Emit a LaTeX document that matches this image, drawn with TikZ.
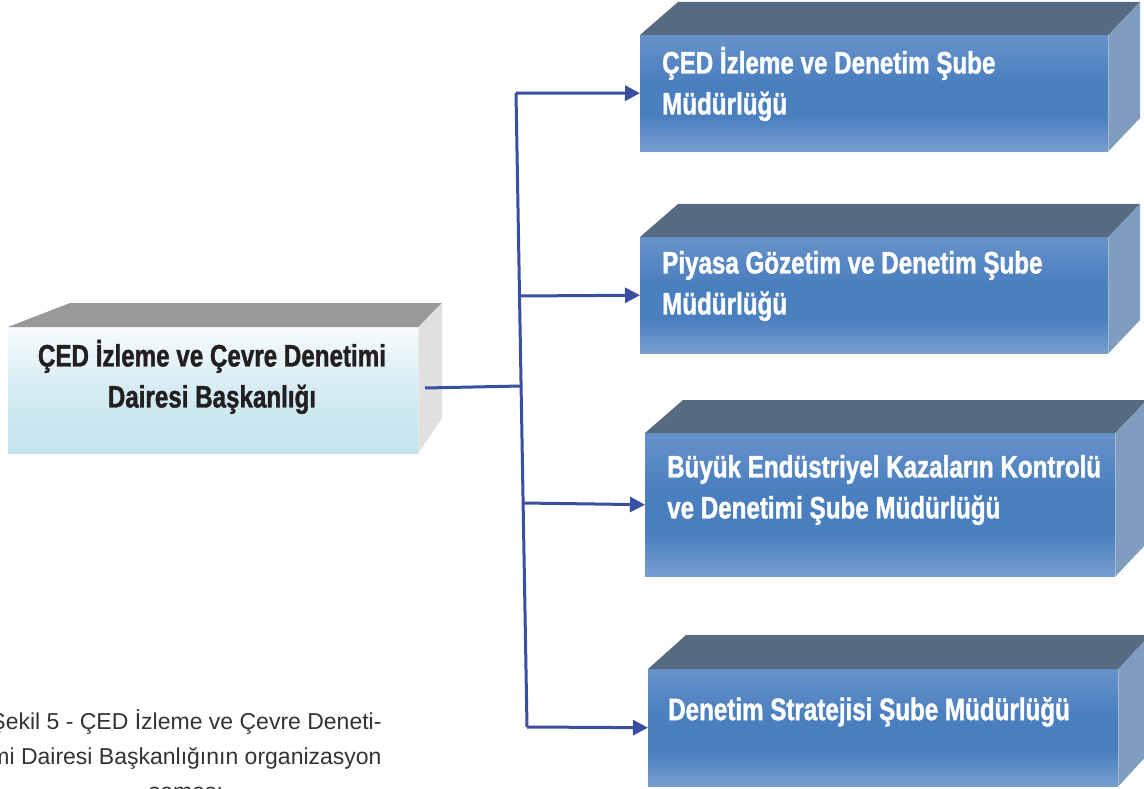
\documentclass[tikz,border=0pt]{standalone}
\usepackage{fontspec}
\setmainfont{Liberation Sans}
\newfontfamily\boxfont[FakeStretch=0.78, BoldFeatures={FakeBold=1.2}]{Liberation Sans}
\usetikzlibrary{arrows.meta}
\definecolor{topblue}{HTML}{566B82}
\definecolor{sideblue}{HTML}{809DBF}
\definecolor{lightblue}{HTML}{97B4DA}
\definecolor{darkblue}{HTML}{4A7FBF}
\definecolor{midblue}{HTML}{6E97CC}
\definecolor{topgray}{HTML}{999999}
\definecolor{sidegray}{HTML}{E0E0E0}
\definecolor{paleblue}{HTML}{B2DCE8}
\definecolor{linkblue}{HTML}{3A4FA2}
\definecolor{captext}{HTML}{333333}
\definecolor{maintext}{HTML}{231F20}
\pgfdeclareverticalshading{bluefront}{100bp}{color(0bp)=(lightblue); color(15bp)=(lightblue); color(40bp)=(darkblue); color(55bp)=(darkblue); color(80bp)=(midblue); color(100bp)=(lightblue)}
\pgfdeclareverticalshading{palefront}{100bp}{color(0bp)=(paleblue); color(50bp)=(paleblue!55!white); color(80bp)=(white); color(100bp)=(white)}
\tikzset{
  front/.style={shading=bluefront, inner sep=0pt, anchor=north west, draw=none},
  mainfront/.style={shading=palefront, inner sep=0pt, anchor=north west, draw=none},
  subtext/.style={font=\boxfont\bfseries\fontsize{31}{41}\selectfont, text=white, align=left, anchor=west, inner sep=0pt},
  maintxt/.style={font=\boxfont\bfseries\fontsize{31}{41}\selectfont, text=maintext, align=center, inner sep=0pt},
  link/.style={draw=linkblue, line width=3pt},
  arrowlink/.style={link, -{Triangle[length=15pt,width=15pt]}},
}
\begin{document}
\begin{tikzpicture}[x=1pt,y=-1pt]
\useasboundingbox (0,0) rectangle (1144,789);
\clip (0,0) rectangle (1144,789);
% main box
\node[mainfront, minimum width=410pt, minimum height=126pt] (main) at (8,327) {};
\fill[topgray] (main.north west) -- (70,303) -- (442,303) -- (main.north east) -- cycle;
\fill[sidegray] (main.north east) -- (442,303) -- (442,418) -- (main.south east) -- cycle;
\node[maintxt] (maint) at (212,377) {ÇED İzleme ve Çevre Denetimi\\Dairesi Başkanlığı};
% box 1
\node[front, minimum width=468pt, minimum height=116pt] (b1) at (640,35) {};
\fill[topblue] (b1.north west) -- (678,2) -- (1140,2) -- (b1.north east) -- cycle;
\fill[sideblue] (b1.north east) -- (1140,2) -- (1140,118) -- (b1.south east) -- cycle;
\node[subtext] (t1) at (662,84) {ÇED İzleme ve Denetim Şube\\Müdürlüğü};
% box 2
\node[front, minimum width=468pt, minimum height=116pt] (b2) at (640,237) {};
\fill[topblue] (b2.north west) -- (678,204) -- (1140,204) -- (b2.north east) -- cycle;
\fill[sideblue] (b2.north east) -- (1140,204) -- (1140,320) -- (b2.south east) -- cycle;
\node[subtext] (t2) at (662,286) {Piyasa Gözetim ve Denetim Şube\\Müdürlüğü};
% box 3
\node[front, minimum width=470pt, minimum height=143pt] (b3) at (645,433) {};
\fill[topblue] (b3.north west) -- (683,400) -- (1147,400) -- (b3.north east) -- cycle;
\fill[sideblue] (b3.north east) -- (1147,400) -- (1147,543) -- (b3.south east) -- cycle;
\node[subtext] (t3) at (667,490) {Büyük Endüstriyel Kazaların Kontrolü\\ve Denetimi Şube Müdürlüğü};
% box 4
\node[front, minimum width=470pt, minimum height=117pt] (b4) at (648,669) {};
\fill[topblue] (b4.north west) -- (686,635) -- (1150,635) -- (b4.north east) -- cycle;
\fill[sideblue] (b4.north east) -- (1150,635) -- (1150,752) -- (b4.south east) -- cycle;
\node[subtext] (t4) at (668,712) {Denetim Stratejisi Şube Müdürlüğü};
% connectors
\coordinate (j1) at (516,93);
\coordinate (j2) at (519.5,296);
\coordinate (jm) at (521,386);
\coordinate (j3) at (523,503);
\coordinate (j4) at (527,727);
\coordinate (ms) at (425,388);
\draw[link] (j1) -- (j4);
\draw[link] (ms) -- (jm);
\draw[arrowlink] (j1) -- (b1.west);
\draw[arrowlink] (j2) -- (b2.west);
\draw[arrowlink] (j3) -- (b3.west);
\draw[arrowlink] (j4) -- (b4.west);
% caption
\node[font=\fontsize{23}{35}\selectfont, align=center, text=captext, inner sep=0pt] (cap) at (186,757) {Şekil 5 - ÇED İzleme ve Çevre Deneti-\\mi Dairesi Başkanlığının organizasyon\\şeması};
\end{tikzpicture}
\end{document}
